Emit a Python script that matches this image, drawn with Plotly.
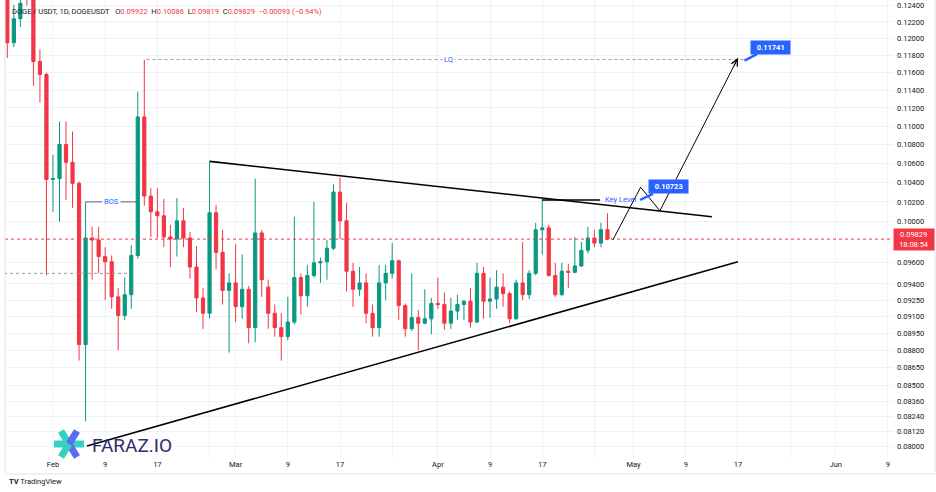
import numpy as np
import pandas as pd
import plotly.graph_objects as go

# ---------------- data ----------------
dates = pd.date_range("2023-01-25", periods=93, freq="D")
opens = [0.1260, 0.1195, 0.1224, 0.1290, 0.1262, 0.1173, 0.1158, 0.1043, 0.1044, 0.1080,
         0.1061, 0.1039, 0.0885, 0.0984, 0.0982, 0.0966, 0.0961, 0.0928, 0.0911, 0.0930,
         0.0967, 0.1110, 0.1026, 0.1010, 0.1006, 0.0985, 0.0983, 0.1001, 0.0984, 0.0956,
         0.0927, 0.0913, 0.1009, 0.0970, 0.0934, 0.0941, 0.0919, 0.0935, 0.0900, 0.0989,
         0.0937, 0.0913, 0.0900, 0.0892, 0.0905, 0.0946, 0.0929, 0.0948, 0.0960, 0.0961,
         0.0974, 0.1030, 0.1001, 0.0952, 0.0935, 0.0941, 0.0913, 0.0900, 0.0941, 0.0950,
         0.0962, 0.0920, 0.0899, 0.0909, 0.0904, 0.0908, 0.0922, 0.0921, 0.0904, 0.0915,
         0.0921, 0.0924, 0.0905, 0.0950, 0.0924, 0.0926, 0.0937, 0.0931, 0.0908, 0.0941,
         0.0930, 0.0950, 0.0992, 0.0994, 0.0948, 0.0930, 0.0952, 0.0951, 0.0957, 0.0972,
         0.0984, 0.0979, 0.09922]
highs = [0.1268, 0.1241, 0.1252, 0.1300, 0.1268, 0.1187, 0.1160, 0.1069, 0.1105, 0.1105,
         0.1094, 0.1041, 0.1020, 0.0995, 0.0995, 0.0975, 0.0967, 0.0936, 0.0946, 0.0977,
         0.1138, 0.1175, 0.1034, 0.1034, 0.1023, 0.0997, 0.1024, 0.1014, 0.0990, 0.0976,
         0.0936, 0.1062, 0.1017, 0.0992, 0.0950, 0.0978, 0.0968, 0.0938, 0.1044, 0.0992,
         0.0944, 0.0921, 0.0913, 0.0928, 0.1005, 0.0950, 0.0958, 0.1020, 0.0965, 0.0982,
         0.1038, 0.1045, 0.1019, 0.0960, 0.0956, 0.0950, 0.0921, 0.0958, 0.0958, 0.0979,
         0.0963, 0.0922, 0.0950, 0.0916, 0.0935, 0.0927, 0.0946, 0.0932, 0.0927, 0.0930,
         0.0925, 0.0936, 0.0960, 0.0956, 0.0946, 0.0953, 0.0950, 0.0933, 0.0944, 0.0980,
         0.0953, 0.0999, 0.1023, 0.0997, 0.0960, 0.0960, 0.0959, 0.0985, 0.0980, 0.0995,
         0.0992, 0.0999, 0.10086]
lows = [0.1177, 0.1190, 0.1214, 0.1240, 0.1145, 0.1126, 0.0948, 0.1010, 0.1000, 0.1022,
        0.1014, 0.0871, 0.0820, 0.0944, 0.0950, 0.0925, 0.0917, 0.0880, 0.0907, 0.0917,
        0.0964, 0.1016, 0.0985, 0.0984, 0.0975, 0.0956, 0.0966, 0.0975, 0.0945, 0.0914,
        0.0899, 0.0908, 0.0954, 0.0921, 0.0878, 0.0905, 0.0908, 0.0886, 0.0887, 0.0928,
        0.0899, 0.0892, 0.0871, 0.0889, 0.0903, 0.0912, 0.0919, 0.0946, 0.0941, 0.0944,
        0.0972, 0.0983, 0.0933, 0.0919, 0.0929, 0.0904, 0.0892, 0.0892, 0.0925, 0.0945,
        0.0907, 0.0892, 0.0897, 0.0880, 0.0903, 0.0894, 0.0917, 0.0898, 0.0899, 0.0907,
        0.0907, 0.0900, 0.0904, 0.0908, 0.0909, 0.0917, 0.0919, 0.0904, 0.0907, 0.0925,
        0.0926, 0.0948, 0.0968, 0.0947, 0.0928, 0.0929, 0.0936, 0.0950, 0.0956, 0.0969,
        0.0975, 0.0975, 0.09819]
closes = [0.1195, 0.1224, 0.1243, 0.1262, 0.1173, 0.1158, 0.1043, 0.1044, 0.1080, 0.1061,
          0.1039, 0.0885, 0.0984, 0.0982, 0.0966, 0.0961, 0.0928, 0.0911, 0.0930, 0.0967,
          0.1110, 0.1026, 0.1010, 0.1006, 0.0985, 0.0983, 0.1001, 0.0984, 0.0956, 0.0927,
          0.0913, 0.1009, 0.0970, 0.0934, 0.0941, 0.0919, 0.0935, 0.0900, 0.0989, 0.0944,
          0.0913, 0.0900, 0.0892, 0.0905, 0.0946, 0.0929, 0.0948, 0.0960, 0.0961, 0.0974,
          0.1030, 0.1001, 0.0952, 0.0935, 0.0941, 0.0913, 0.0900, 0.0941, 0.0950, 0.0962,
          0.0920, 0.0899, 0.0909, 0.0904, 0.0908, 0.0922, 0.0921, 0.0904, 0.0915, 0.0921,
          0.0924, 0.0905, 0.0950, 0.0924, 0.0926, 0.0937, 0.0931, 0.0908, 0.0941, 0.0930,
          0.0950, 0.0992, 0.0994, 0.0948, 0.0930, 0.0952, 0.0951, 0.0957, 0.0972, 0.0984,
          0.0979, 0.09922, 0.09829]

price_ticks = [0.124, 0.122, 0.120, 0.118, 0.116, 0.114, 0.112, 0.110, 0.108, 0.106,
               0.104, 0.102, 0.100, 0.096, 0.094, 0.0925, 0.091, 0.0895, 0.088, 0.0865,
               0.085, 0.0836, 0.0824, 0.0812, 0.080]
date_ticks = ["2023-02-01", "2023-02-09", "2023-02-17", "2023-02-25", "2023-03-01",
              "2023-03-09", "2023-03-17", "2023-03-25", "2023-04-01", "2023-04-09",
              "2023-04-17", "2023-04-25", "2023-05-01", "2023-05-09", "2023-05-17",
              "2023-05-25", "2023-06-01", "2023-06-09"]
date_tick_text = ["Feb", "9", "17", "", "Mar", "9", "17", "", "Apr", "9", "17", "",
                  "May", "9", "17", "", "Jun", "9"]

# drawings (date, price)
upper_line_x = ["2023-02-25 00:30", "2023-05-13 00:00"]
upper_line_y = [0.1062, 0.1005]
lower_line_x = ["2023-02-06 05:00", "2023-05-17 00:00"]
lower_line_y = [0.0800, 0.0961]
key_x = ["2023-04-17 00:00", "2023-04-25 21:00"]
key_y = [0.1022, 0.1022]
bos_x = ["2023-02-06 00:00", "2023-02-13 21:00"]
bos_y = [0.1020, 0.1020]
lq_x = ["2023-02-15 08:00", "2023-05-18 00:00"]
lq_y = [0.11752, 0.11752]
support_x = ["2023-01-24 12:00", "2023-02-12 19:00"]
support_y = [0.0950, 0.0950]
path_x = ["2023-04-27 20:00", "2023-05-02 02:00", "2023-05-05 01:00", "2023-05-17 00:00"]
path_y = [0.09822, 0.1035, 0.1011, 0.1177]
last_price = 0.09829
x_range = ["2023-01-24 15:30", "2023-06-09 18:30"]
y_range = [0.07905, 0.12470]

INC = "#089981"
DEC = "#f23645"
BLUE = "#2962ff"
TXT = "#131722"
GRID = "#f0f2f6"

W, H = 936, 492
ML, MR, MT, MB = 5, 43, 0, 34
PW, PH = W - ML - MR, H - MT - MB


def px(x, y):
    return (x - ML) / PW, 1 - (y - MT) / PH


fig = go.Figure()

fig.add_trace(go.Candlestick(
    x=dates, open=opens, high=highs, low=lows, close=closes,
    increasing=dict(line=dict(color=INC, width=1), fillcolor=INC),
    decreasing=dict(line=dict(color=DEC, width=1), fillcolor=DEC),
    hoverinfo="skip", showlegend=False))


def line(x, y, color, width, dash="solid"):
    fig.add_trace(go.Scatter(x=x, y=y, mode="lines", hoverinfo="skip", showlegend=False,
                             line=dict(color=color, width=width, dash=dash)))


line(x_range, [last_price, last_price], DEC, 1, "dot")
line(support_x, support_y, "#9598a1", 1, "dot")
line(lq_x, lq_y, "#9598a1", 1, "dot")
line(upper_line_x, upper_line_y, "#000000", 1.6)
line(lower_line_x, lower_line_y, "#000000", 1.6)
line(key_x, key_y, "#000000", 1.5)
line(bos_x, bos_y, "#5d606b", 1)
line(path_x, path_y, "#000000", 1)

ann = []


def data_text(x, yv, text, color=BLUE, size=7.5, xanchor="center", bg="rgba(0,0,0,0)"):
    ann.append(dict(x=x, y=np.log10(yv), xref="x", yref="y", text=text, showarrow=False,
                    xanchor=xanchor, yanchor="middle", bgcolor=bg, borderpad=1,
                    font=dict(family="Roboto", size=size, color=color)))


data_text("2023-02-10 00:00", bos_y[0], "BOS", bg="white")
data_text("2023-04-02 14:00", lq_y[0], "LQ", bg="white")
data_text("2023-04-26 06:00", key_y[0], "Key Level", xanchor="left")

# arrow head at end of projected path
ann.append(dict(x=path_x[-1], y=np.log10(path_y[-1]), xref="x", yref="y", text="",
                showarrow=True, arrowhead=5, arrowsize=1.3, arrowwidth=1,
                arrowcolor="#000000", ax=-5, ay=10))

# blue callouts
for cx, cy, txt, axo, ayo in [("2023-05-02 00:00", 0.1022, "0.10723", 28, -13),
                              ("2023-05-18 00:00", 0.11741, "0.11741", 26, -13.5)]:
    ann.append(dict(x=cx, y=np.log10(cy), xref="x", yref="y",
                    text="\u00a0\u00a0<b>" + txt + "</b>\u00a0\u00a0",
                    showarrow=True, arrowhead=0, arrowwidth=2.5, arrowcolor=BLUE,
                    ax=axo, ay=ayo, bgcolor=BLUE, borderpad=2,
                    font=dict(family="Roboto", size=7.5, color="white")))

# last price label on price scale
ann.append(dict(x=1, y=np.log10(last_price), xref="paper", yref="y",
                text="0.09829<br>18:08:54", showarrow=False, xanchor="left",
                yanchor="middle", bgcolor=DEC, borderpad=1, width=38,
                font=dict(family="Roboto", size=7.5, color="white")))

# header
red = "<span style='color:%s'>%s</span>"
header = ("DOGE / USDT, 1D, DOGEUSDT\u00a0\u00a0\u00a0O" + red % (DEC, "0.09922") +
          "\u00a0\u00a0H" + red % (DEC, "0.10086") + "\u00a0\u00a0L" + red % (DEC, "0.09819") +
          "\u00a0\u00a0C" + red % (DEC, "0.09829") + "\u00a0\u00a0" + red % (DEC, "\u22120.00093 (\u22120.94%)"))
hx, hy = px(10, 12)
ann.append(dict(x=hx, y=hy, xref="paper", yref="paper", text=header, showarrow=False,
                xanchor="left", yanchor="middle",
                font=dict(family="Roboto", size=7.5, color=TXT)))

# watermark text
fx, fy = px(90, 445)
ann.append(dict(x=fx, y=fy, xref="paper", yref="paper", text="FARAZ.IO", showarrow=False,
                xanchor="left", yanchor="middle",
                font=dict(family="Roboto", size=19, color="#2c2e6e")))

# TradingView footer
tx, ty = px(7, 482)
ann.append(dict(x=tx, y=ty, xref="paper", yref="paper",
                text="<b>TV</b> TradingView", showarrow=False, xanchor="left", yanchor="middle",
                font=dict(family="Roboto", size=7.5, color=TXT)))

shapes = []
# logo icon
TEAL, PURP = "#34d1c4", "#5c6cf2"
cxp, cyp = 69, 444
for (x0, y0, x1, y1, col) in [(54, 444, 84, 444, TEAL), (61, 431, 69, 444, TEAL),
                              (69, 444, 77, 457, PURP), (77, 431, 69, 444, PURP),
                              (69, 444, 61, 457, TEAL)]:
    a0, b0 = px(x0, y0)
    a1, b1 = px(x1, y1)
    shapes.append(dict(type="line", xref="paper", yref="paper", x0=a0, y0=b0, x1=a1, y1=b1,
                       line=dict(color=col, width=7), layer="above"))

# pane borders
BORDER = "#e0e3eb"
for (x0, y0, x1, y1) in [(5, 0, 5, 474), (5, 474, 935, 474), (935, 0, 935, 474)]:
    a0, b0 = px(x0, y0)
    a1, b1 = px(x1, y1)
    shapes.append(dict(type="line", xref="paper", yref="paper", x0=a0, y0=b0, x1=a1, y1=b1,
                       line=dict(color=BORDER, width=1), layer="above"))

fig.update_layout(
    width=W, height=H, margin=dict(l=ML, r=MR, t=MT, b=MB),
    paper_bgcolor="white", plot_bgcolor="white",
    annotations=ann, shapes=shapes, showlegend=False,
    font=dict(family="Roboto", color=TXT),
    xaxis=dict(type="date", range=x_range, rangeslider=dict(visible=False),
               tickvals=date_ticks, ticktext=date_tick_text, showgrid=True, gridcolor=GRID,
               gridwidth=1, zeroline=False, showline=False, ticks="",
               tickfont=dict(family="Roboto", size=7.5, color=TXT)),
    yaxis=dict(type="log", side="right", range=[np.log10(y_range[0]), np.log10(y_range[1])],
               tickvals=price_ticks, ticktext=[f"{v:.5f}" for v in price_ticks],
               showgrid=True, gridcolor=GRID, gridwidth=1, zeroline=False, showline=False,
               ticks="", ticklabelstandoff=3,
               tickfont=dict(family="Roboto", size=7.5, color=TXT)),
)

fig.write_html("out.html")
